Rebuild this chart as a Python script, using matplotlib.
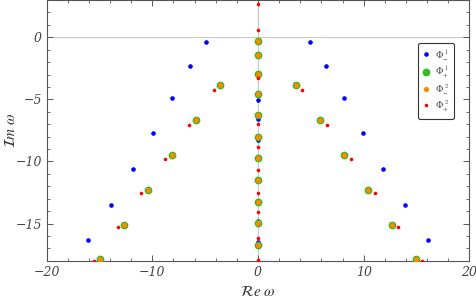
import matplotlib
matplotlib.use("Agg")
from matplotlib import pyplot as plt
from matplotlib.ticker import MultipleLocator

plt.rcParams['mathtext.fontset'] = 'stix'

# Phi_-^1 (blue): off-axis branch pairs plus a few purely imaginary modes
blue_re = [-4.95, -6.45, -8.1, -9.9, -11.85, -13.9, -16.05,
           4.95, 6.45, 8.1, 9.9, 11.85, 13.9, 16.05,
           0, 0, 0, 0, 0]
blue_im = [-0.36, -2.31, -4.88, -7.68, -10.57, -13.47, -16.36,
           -0.36, -2.31, -4.88, -7.68, -10.57, -13.47, -16.36,
           -5.07, -6.6, -8.24, -14.78, -16.5]

# Phi_+^1 (green) and Phi_-^2 (orange) coincide
go_re = [-3.58, -5.83, -8.15, -10.4, -12.69, -14.96,
         3.58, 5.83, 8.15, 10.4, 12.69, 14.96,
         0, 0, 0, 0, 0, 0, 0, 0, 0, 0, 0]
go_im = [-3.84, -6.69, -9.5, -12.31, -15.1, -17.89,
         -3.84, -6.69, -9.5, -12.31, -15.1, -17.89,
         -0.27, -1.42, -2.93, -4.56, -6.25, -8.0, -9.71, -11.46, -13.25, -14.94, -16.73]

# Phi_+^2 (red)
red_re = [-4.2, -6.52, -8.8, -11.03, -13.27, -15.5,
          4.2, 6.52, 8.8, 11.03, 13.27, 15.5,
          0, 0, 0, 0, 0, 0, 0, 0, 0, 0]
red_im = [-4.27, -7.08, -9.82, -12.55, -15.32, -18.0,
          -4.27, -7.08, -9.82, -12.55, -15.32, -18.0,
          2.68, 0.56, -3.3, -7.0, -8.85, -10.7, -12.53, -14.11, -16.15, -17.92]

labels = [r'$\Phi_{-}^{\ 1}$', r'$\Phi_{+}^{\ 1}$', r'$\Phi_{-}^{\ 2}$', r'$\Phi_{+}^{\ 2}$']

fig = plt.figure(figsize=(4.76, 3.05), dpi=100)
ax = fig.add_axes([0.098, 0.145, 0.888, 0.855])

ax.axhline(0, color='#c8c8c8', lw=0.8, zorder=0)
ax.axvline(0, color='#c8c8c8', lw=0.8, zorder=0)

ax.plot(blue_re, blue_im, 'o', color='#0000ff', ms=3.3, mec='none', label=labels[0], zorder=3)
ax.plot(go_re, go_im, 'o', color='#33bb22', ms=5.6, mec='none', label=labels[1], zorder=4)
ax.plot(go_re, go_im, 'o', color='#ff8800', ms=3.8, mec='none', label=labels[2], zorder=5)
ax.plot(red_re, red_im, 'o', color='#ff0000', ms=2.6, mec='none', label=labels[3], zorder=6)

ax.set_xlim(-20, 20)
ax.set_ylim(-18, 3)
ax.xaxis.set_major_locator(MultipleLocator(10))
ax.xaxis.set_minor_locator(MultipleLocator(2))
ax.yaxis.set_major_locator(MultipleLocator(5))
ax.yaxis.set_minor_locator(MultipleLocator(1))
ax.tick_params(which='both', direction='in', top=True, right=True,
               color='#555555', labelcolor='#444444', labelsize=9)
ax.tick_params(which='major', length=4, width=0.7)
ax.tick_params(which='minor', length=2.2, width=0.6)
for lab in ax.get_xticklabels() + ax.get_yticklabels():
    lab.set_fontstyle('italic')
    lab.set_fontfamily('DejaVu Serif')
for s in ax.spines.values():
    s.set_color('#555555')
    s.set_linewidth(0.8)

ax.set_xlabel(r'$\mathcal{R}\mathit{e}\ \omega$', fontsize=11, color='#333333')
ax.set_ylabel(r'$\mathcal{I}\mathit{m}\ \omega$', fontsize=11, color='#333333')
ax.xaxis.set_label_coords(0.5, -0.09)
ax.yaxis.set_label_coords(-0.068, 0.5)

leg = ax.legend(loc='upper right', bbox_to_anchor=(0.975, 0.855), fontsize=7,
                handlelength=0.6, handletextpad=0.6, labelspacing=0.25,
                borderpad=0.5, frameon=True, fancybox=True, framealpha=1,
                edgecolor='#333333', labelcolor='#555555')
leg.get_frame().set_linewidth(0.8)

fig.savefig('out.png', dpi=100)
